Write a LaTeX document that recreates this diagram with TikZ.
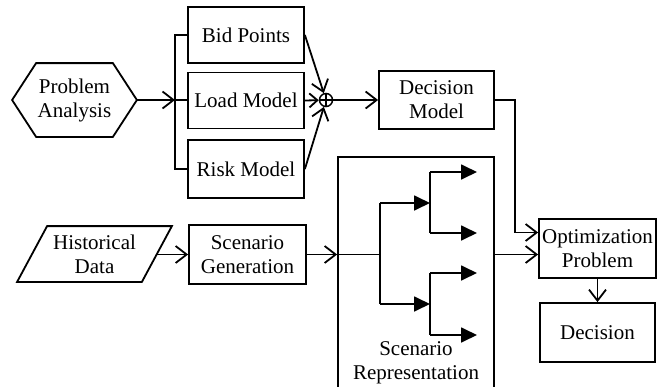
\documentclass[tikz,border=0pt]{standalone}
\usepackage{fontspec}
\setmainfont{Liberation Serif}
\usetikzlibrary{arrows.meta,calc}
\begin{document}
\begin{tikzpicture}[x=1pt,y=-1pt, line width=1.8pt,
  every node/.style={font=\fontsize{21}{24}\selectfont, align=center, inner sep=0pt},
  blk/.style={draw, minimum width=116pt, minimum height=57pt},
  oarr/.style={-{Straight Barb[length=11pt,width=17pt]}},
  farr/.style={-{Triangle[length=16pt,width=15pt]}}]
\useasboundingbox (0,0) rectangle (662,386);
% top row
\node[minimum width=123pt, minimum height=72pt] (pa) at (74.5,100) {Problem\\Analysis};
\draw ($(pa.north west)+(24,0)$) -- ($(pa.north east)+(-24,0)$) -- (pa.east) -- ($(pa.south east)+(-24,0)$) -- ($(pa.south west)+(24,0)$) -- (pa.west) -- cycle;
\node[blk, minimum height=56pt] (bp) at (246,35) {Bid Points};
\node[blk, minimum height=56pt] (lm) at (246,100.5) {Load Model};
\node[blk, minimum height=58pt] (rm) at (246,169) {Risk Model};
\coordinate (br) at (175,100);
\draw (bp.west) -- (bp.west -| br) -- (rm.west -| br) -- (rm.west);
\draw (br) -- (br -| lm.west);
\draw[oarr] (pa.east) -- (br);
\node[draw, circle, minimum size=13pt, line width=1.5pt] (op) at (326,100) {};
\draw[line width=1.5pt] (op.north) -- (op.south) (op.west) -- (op.east);
\draw[oarr] (bp.east) -- (op);
\draw[-{Straight Barb[length=8pt,width=14pt]}] (lm.east) -- (op);
\draw[oarr] (rm.east) -- (op);
\node[blk, minimum width=115pt, minimum height=58pt] (dm) at (436.5,100) {Decision\\Model};
\draw[oarr] (op) -- (dm);
% bottom row
\node[minimum width=153pt, minimum height=54pt] (hd) at (94.5,254) {Historical\\Data};
\draw ($(hd.north west)+(30,0)$) -- (hd.north east) -- ($(hd.south east)+(-30,0)$) -- (hd.south west) -- cycle;
\node[blk, minimum width=117pt, minimum height=59pt] (sg) at (247.5,254.5) {Scenario\\Generation};
\draw[oarr] ($(hd.east)+(-15,0.5)$) -- (sg.west);
\node[draw, minimum width=156pt, minimum height=236pt] (sr) at (416,275) {};
\node (srl) at (416,363) {Scenario\\Representation};
\draw[oarr] (sg.east) -- (sg.east -| sr.west);
% tree
\coordinate (t0) at (380,254.5);
\coordinate (t1) at (430,203);
\coordinate (t2) at (430,304);
\coordinate (l1) at (477,172);
\coordinate (l2) at (477,233);
\coordinate (l3) at (477,273);
\coordinate (l4) at (477,335);
\draw (sr.west |- t0) -- (t0);
\draw (t0 |- t1) -- (t0 |- t2);
\draw[farr] (t0 |- t1) -- (t1);
\draw[farr] (t0 |- t2) -- (t2);
\draw (t1 |- l1) -- (t1 |- l2);
\draw (t1 |- l3) -- (t1 |- l4);
\draw[farr] (t1 |- l1) -- (l1);
\draw[farr] (t1 |- l2) -- (l2);
\draw[farr] (t1 |- l3) -- (l3);
\draw[farr] (t1 |- l4) -- (l4);
% right column
\node[blk, minimum width=117pt, minimum height=59pt] (opt) at (597.5,248.5) {Optimization\\Problem};
\node[blk, minimum width=115pt, minimum height=59pt] (dec) at (597.5,332.5) {Decision};
\coordinate (j) at (515,100);
\draw[oarr] (dm.east) -- (j) |- ($(opt.west)+(0,-16)$);
\draw[oarr] (sr.east |- sg.east) -- (opt.west |- sg.east);
\draw[oarr] (opt.south) -- (dec.north);
\end{tikzpicture}
\end{document}
